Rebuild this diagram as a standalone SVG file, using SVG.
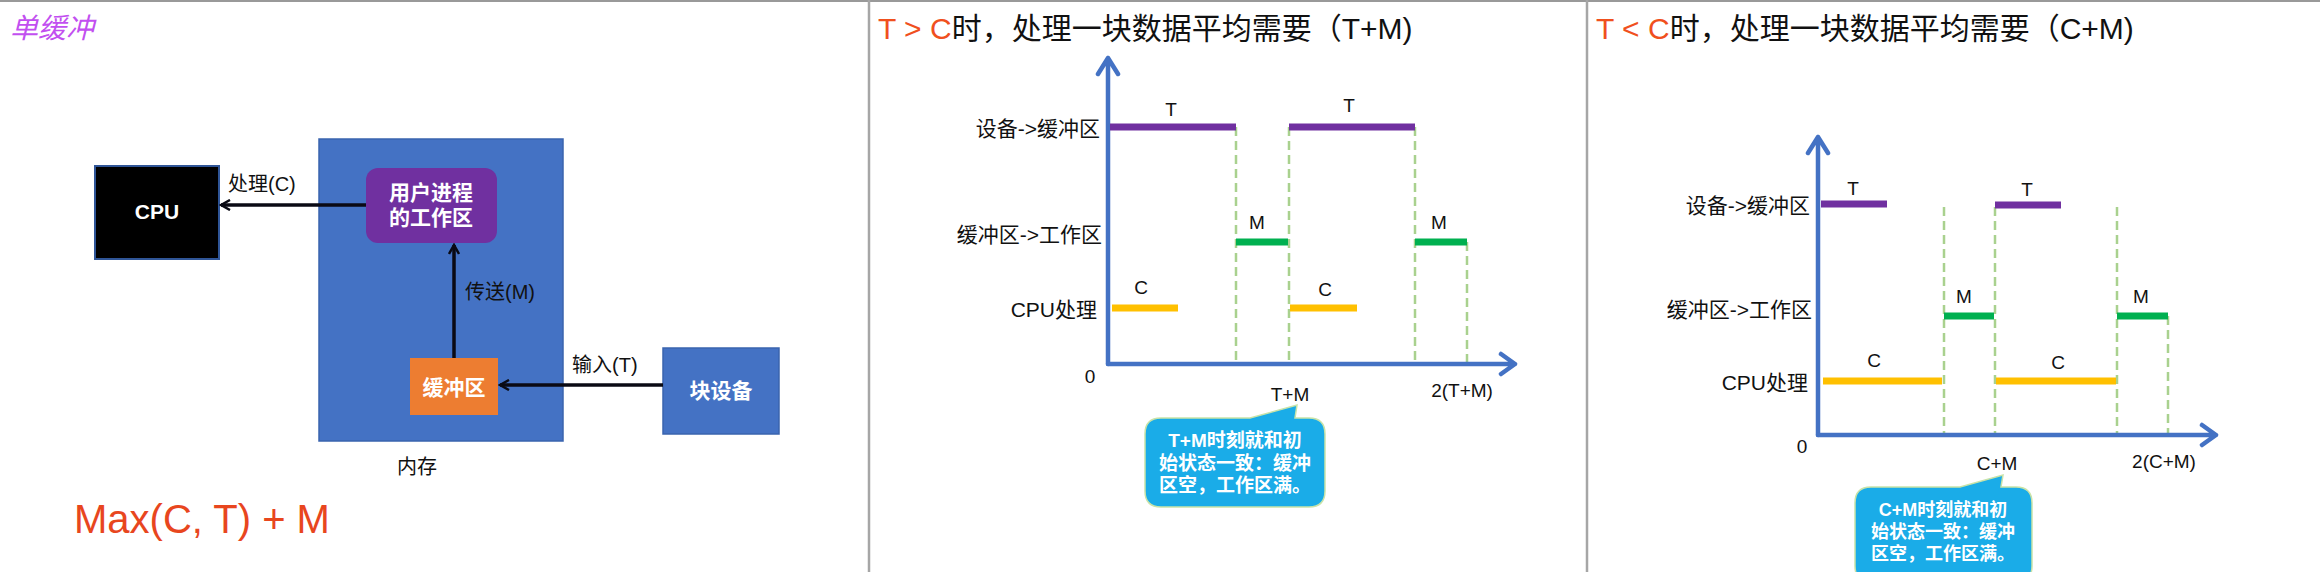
<svg xmlns="http://www.w3.org/2000/svg" width="2320" height="572" viewBox="0 0 2320 572">
<style>
text{font-family:"Liberation Sans","Noto Sans CJK SC",sans-serif;}
.lbl{font-size:20px;fill:#111;}
.wb{font-size:21px;fill:#fff;font-weight:bold;text-anchor:middle;}
.ttl{font-size:30px;fill:#111;}
.red{fill:#F0501E;}
.row{font-size:21px;fill:#111;text-anchor:end;}
.bl{font-size:19px;fill:#111;text-anchor:middle;}
.axis{stroke:#4472C4;stroke-width:4.5;fill:none;stroke-linecap:round;stroke-linejoin:round;}
.bar{stroke-width:7;fill:none;}
.pur{stroke:#7030A0;}
.grn{stroke:#00B050;}
.yel{stroke:#FFC000;}
.dash{stroke:#A9D18E;stroke-width:2.5;stroke-dasharray:9 5;fill:none;}
.conn{stroke:#0a0a14;stroke-width:3.5;fill:none;}
.callout{fill:#1AACE8;stroke:#C9E3A8;stroke-width:1.5;}
.ct{font-size:19px;fill:#fff;font-weight:bold;text-anchor:middle;}
.div{stroke:#A6A6A6;stroke-width:2.5;}
</style>
<defs>
<marker id="ah" viewBox="0 0 12 12" refX="10" refY="6" markerWidth="12" markerHeight="12" markerUnits="userSpaceOnUse" orient="auto">
<path d="M1,1 L10,6 L1,11" fill="none" stroke="#0a0a14" stroke-width="2.5"/>
</marker>
</defs>
<rect x="0" y="0" width="2320" height="572" fill="#fff"/>
<line x1="0" y1="1" x2="2320" y2="1" stroke="#999" stroke-width="2"/>
<line class="div" x1="869" y1="0" x2="869" y2="572"/>
<line class="div" x1="1587" y1="0" x2="1587" y2="572"/>

<!-- Panel 1 -->
<text x="10" y="38" style="font-size:28px;fill:#C24FF0;font-style:italic;">单缓冲</text>
<g id="memory">
<rect x="319" y="139" width="244" height="302" fill="#4472C4" stroke="#3A64AE" stroke-width="1.5"/>
<text class="lbl" x="417" y="474" text-anchor="middle">内存</text>
</g>
<g id="cpu">
<rect x="95" y="166" width="124" height="93" fill="#000" stroke="#2F5597" stroke-width="2"/>
<text class="wb" x="157" y="219" style="font-size:21px">CPU</text>
</g>
<g id="workarea">
<rect x="366" y="168" width="131" height="75" rx="12" fill="#7030A0"/>
<text class="wb" x="431" y="200">用户进程</text>
<text class="wb" x="431" y="225">的工作区</text>
</g>
<g id="buffer">
<rect x="410" y="358" width="88" height="57" fill="#ED7D31"/>
<text class="wb" x="454" y="395">缓冲区</text>
</g>
<g id="blockdev">
<rect x="663" y="348" width="116" height="86" fill="#4472C4" stroke="#3A64AE" stroke-width="1.5"/>
<text class="wb" x="721" y="398">块设备</text>
</g>
<g id="connectors">
<line class="conn" x1="366" y1="205" x2="221" y2="205" marker-end="url(#ah)"/>
<line class="conn" x1="454" y1="358" x2="454" y2="245" marker-end="url(#ah)"/>
<line class="conn" x1="663" y1="385" x2="500" y2="385" marker-end="url(#ah)"/>
<text class="lbl" x="228" y="191">处理(C)</text>
<text class="lbl" x="465" y="299">传送(M)</text>
<text class="lbl" x="572" y="372">输入(T)</text>
</g>
<text x="74" y="533" style="font-size:40px;fill:#E8461E;">Max(C, T) + M</text>

<!-- Panel 2 -->
<text class="ttl" x="878" y="39"><tspan class="red">T &gt; C</tspan>时，处理一块数据平均需要（T+M)</text>
<g id="chart1">
<path class="dash" d="M1236,127 V364 M1289,127 V364 M1415,127 V364 M1467,242 V364"/>
<path class="axis" d="M1108,364 V58 M1098,74 L1108,58 L1118,74"/>
<path class="axis" d="M1108,364 H1515 M1501,354 L1515,364 L1501,374"/>
<line class="bar pur" x1="1110" y1="127" x2="1236" y2="127"/>
<line class="bar pur" x1="1289" y1="127" x2="1415" y2="127"/>
<line class="bar grn" x1="1236" y1="242" x2="1288" y2="242"/>
<line class="bar grn" x1="1415" y1="242" x2="1467" y2="242"/>
<line class="bar yel" x1="1112" y1="308" x2="1178" y2="308"/>
<line class="bar yel" x1="1290" y1="308" x2="1357" y2="308"/>
<text class="row" x="1100" y="136">设备-&gt;缓冲区</text>
<text class="row" x="1102" y="242">缓冲区-&gt;工作区</text>
<text class="row" x="1097" y="317">CPU处理</text>
<text class="bl" x="1171" y="116">T</text>
<text class="bl" x="1349" y="112">T</text>
<text class="bl" x="1257" y="229">M</text>
<text class="bl" x="1439" y="229">M</text>
<text class="bl" x="1141" y="294">C</text>
<text class="bl" x="1325" y="296">C</text>
<text class="bl" x="1090" y="383">0</text>
<text class="bl" x="1290" y="401">T+M</text>
<text class="bl" x="1462" y="397">2(T+M)</text>
</g>
<g id="callout1">
<path class="callout" d="M1161,418 L1250,418 L1297,405 L1295,418 L1309,418 Q1325,418 1325,434 L1325,491 Q1325,507 1309,507 L1161,507 Q1145,507 1145,491 L1145,434 Q1145,418 1161,418 Z"/>
<text class="ct" x="1235" y="447">T+M时刻就和初</text>
<text class="ct" x="1235" y="470">始状态一致：缓冲</text>
<text class="ct" x="1235" y="492">区空，工作区满。</text>
</g>

<!-- Panel 3 -->
<text class="ttl" x="1596" y="39"><tspan class="red">T &lt; C</tspan>时，处理一块数据平均需要（C+M)</text>
<g id="chart2">
<path class="dash" d="M1944,207 V435 M1995,207 V435 M2117,207 V435 M2168,316 V435"/>
<path class="axis" d="M1818,435 V137 M1808,153 L1818,137 L1828,153"/>
<path class="axis" d="M1818,435 H2216 M2202,425 L2216,435 L2202,445"/>
<line class="bar pur" x1="1821" y1="204" x2="1887" y2="204"/>
<line class="bar pur" x1="1995" y1="205" x2="2061" y2="205"/>
<line class="bar grn" x1="1944" y1="316" x2="1994" y2="316"/>
<line class="bar grn" x1="2117" y1="316" x2="2168" y2="316"/>
<line class="bar yel" x1="1823" y1="381" x2="1942" y2="381"/>
<line class="bar yel" x1="1996" y1="381" x2="2116" y2="381"/>
<text class="row" x="1810" y="213">设备-&gt;缓冲区</text>
<text class="row" x="1812" y="317">缓冲区-&gt;工作区</text>
<text class="row" x="1808" y="390">CPU处理</text>
<text class="bl" x="1853" y="195">T</text>
<text class="bl" x="2027" y="196">T</text>
<text class="bl" x="1964" y="303">M</text>
<text class="bl" x="2141" y="303">M</text>
<text class="bl" x="1874" y="367">C</text>
<text class="bl" x="2058" y="369">C</text>
<text class="bl" x="1802" y="453">0</text>
<text class="bl" x="1997" y="470">C+M</text>
<text class="bl" x="2164" y="468">2(C+M)</text>
</g>
<g id="callout2">
<path class="callout" d="M1871,487 L1960,487 L2003,475 L2001,487 L2016,487 Q2032,487 2032,503 L2032,566 Q2032,582 2016,582 L1871,582 Q1855,582 1855,566 L1855,503 Q1855,487 1871,487 Z"/>
<text class="ct" x="1943" y="516" style="font-size:18px">C+M时刻就和初</text>
<text class="ct" x="1943" y="538" style="font-size:18px">始状态一致：缓冲</text>
<text class="ct" x="1943" y="560" style="font-size:18px">区空，工作区满。</text>
</g>
</svg>
